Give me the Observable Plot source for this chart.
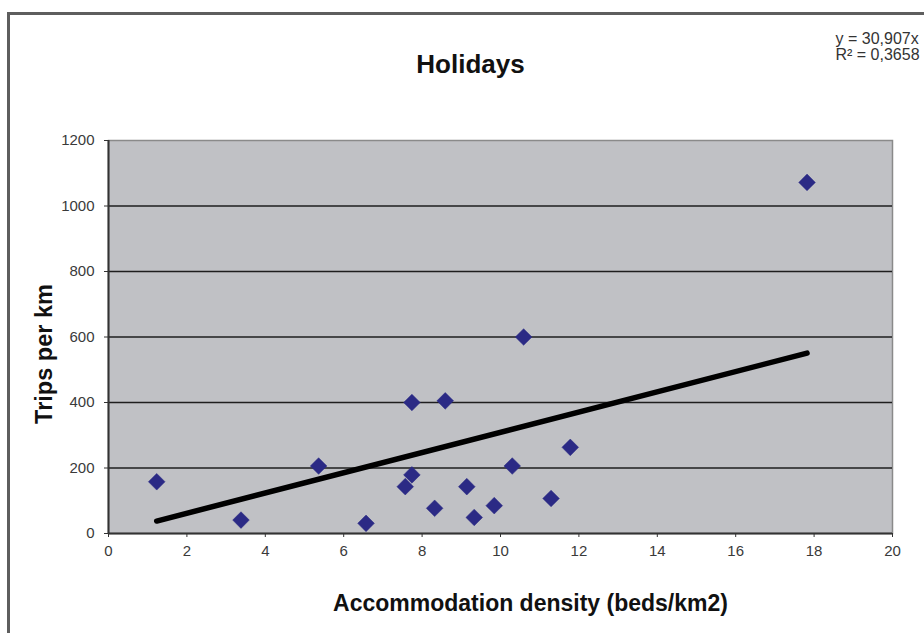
<!DOCTYPE html>
<html>
<head>
<meta charset="utf-8">
<script src="https://cdn.jsdelivr.net/npm/d3@7"></script>
<script src="https://cdn.jsdelivr.net/npm/@observablehq/plot@0.6"></script>
<style>
  html, body { margin: 0; padding: 0; background: #ffffff; }
  #wrap { position: relative; width: 924px; height: 633px; overflow: hidden; }
  #border { position: absolute; left: 7px; top: 12px; width: 2000px; height: 2000px;
            border-left: 3px solid #5e5e5e; border-top: 3px solid #5e5e5e; box-sizing: border-box; }
  #chart { position: absolute; left: 0; top: 0; }
</style>
</head>
<body>
<div id="wrap"><div id="border"></div><div id="chart"></div></div>
<script>
// Data
const density = [1.23, 3.38, 5.36, 6.57, 7.57, 7.74, 7.74, 8.59, 8.32, 9.14, 9.33, 9.84, 10.3, 10.59, 11.29, 11.78, 17.82];
const trips   = [158, 41, 206, 31, 143, 179, 400, 405, 77, 143, 49, 85, 206, 600, 107, 263, 1072];
const slope = 30.907;
const r2 = "0,3658";
const xTicks = [0, 2, 4, 6, 8, 10, 12, 14, 16, 18, 20];
const yTicks = [0, 200, 400, 600, 800, 1000, 1200];
const titleText = "Holidays";
const xLabel = "Accommodation density (beds/km2)";
const yLabel = "Trips per km";

const points = density.map((d, i) => ({x: d, y: trips[i]}));
const xMin = d3.min(density), xMax = d3.max(density);
const trend = [{x: xMin, y: slope * xMin}, {x: xMax, y: slope * xMax}];

const font = "'Liberation Sans', Arial, sans-serif";

const chart = Plot.plot({
  width: 924,
  height: 633,
  marginLeft: 108,
  marginRight: 32,
  marginTop: 140,
  marginBottom: 100,
  style: {fontFamily: font, background: "transparent", color: "#3a3a3a", overflow: "visible"},
  x: {domain: [0, 20]},
  y: {domain: [0, 1200]},
  marks: [
    Plot.frame({fill: "#c0c1c5", stroke: "#8a8a8a", strokeWidth: 1.5}),
    Plot.ruleY(yTicks.filter(v => v > 0 && v < 1200), {stroke: "#1e1e1e", strokeWidth: 1.3}),
    Plot.ruleX([0], {stroke: "#333", strokeWidth: 2}),
    Plot.ruleY([0], {stroke: "#333", strokeWidth: 2}),
    Plot.axisX({ticks: xTicks, tickSize: 4, tickPadding: 8, fontSize: 15, label: null, stroke: "#333"}),
    Plot.axisY({ticks: yTicks, tickSize: 4, tickPadding: 10, fontSize: 15, label: null, tickFormat: d3.format("d"), stroke: "#333"}),
    Plot.line(trend, {x: "x", y: "y", stroke: "#000", strokeWidth: 5.5, strokeLinecap: "round"}),
    Plot.dot(points, {x: "x", y: "y", symbol: "diamond2", r: 7.5, fill: "#2b2a85", stroke: "#2b2a85", strokeWidth: 0.5}),
    Plot.text([titleText], {frameAnchor: "top", textAnchor: "middle", lineAnchor: "middle", dx: -30, dy: -76, fontSize: 26, fontWeight: "bold", fill: "#111"}),
    Plot.text([xLabel], {frameAnchor: "bottom", textAnchor: "middle", lineAnchor: "middle", dx: 30, dy: 70, fontSize: 23, fontWeight: "bold", fill: "#111"}),
    Plot.text([yLabel], {frameAnchor: "left", textAnchor: "middle", lineAnchor: "middle", dx: -64, dy: 17, rotate: -90, fontSize: 23.5, fontWeight: "bold", fill: "#111"}),
    Plot.text([`y = ${String(slope).replace(".", ",")}x`], {frameAnchor: "top-right", textAnchor: "start", lineAnchor: "middle", dx: -57, dy: -102, fontSize: 16, fill: "#333"}),
    Plot.text([`R² = ${r2}`], {frameAnchor: "top-right", textAnchor: "start", lineAnchor: "middle", dx: -57, dy: -86, fontSize: 16, fill: "#333"})
  ]
});
document.getElementById("chart").appendChild(chart);
</script>
</body>
</html>
